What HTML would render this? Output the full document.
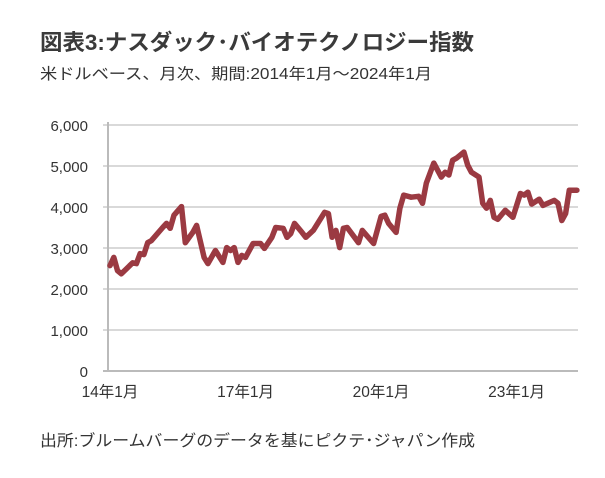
<!DOCTYPE html>
<html><head><meta charset="utf-8">
<style>
body{margin:0;background:#fff;}
svg text{font-family:"Liberation Sans","Noto Sans CJK JP",sans-serif;}
</style></head>
<body>
<svg width="605" height="473" viewBox="0 0 605 473">
<text x="40" y="50" font-size="22" font-weight="bold" fill="#3a3a3a" textLength="434" lengthAdjust="spacingAndGlyphs">図表3:ナスダック･バイオテクノロジー指数</text>
<text x="40" y="79" font-size="15.5" fill="#333" textLength="392" lengthAdjust="spacingAndGlyphs">米ドルベース、月次、期間:2014年1月～2024年1月</text>
<g id="grid"></g>
<g id="yt"></g>
<g id="xt"></g>
<line x1="108" y1="122" x2="108" y2="371" stroke="#bbb" stroke-width="2"/>
<path id="line" fill="none" stroke="#9b3a42" stroke-width="5.5" stroke-linejoin="round" stroke-linecap="round"/>
<text x="40" y="446" font-size="16" fill="#333" textLength="435" lengthAdjust="spacingAndGlyphs">出所:ブルームバーグのデータを基にピクテ･ジャパン作成</text>
</svg>
<script>
const months=[0,1,2,3,6,7,8,9,10,11,14,15,16,17,19,20,22,23,25,26,28,30,31,32,33,34,35,36,38,40,41,43,44,46,47,48,49,51,52,54,57,58,59,60,61,62,63,66,67,70,72,73,74,76,77,78,80,82,83,84,86,88,89,90,91,92,94,95,96,98,99,100,101,102,103,105,107,109,110,111,112,114,115,118,119,120,121,122,124];
const values=[2570,2770,2450,2370,2640,2620,2860,2840,3130,3180,3500,3600,3480,3800,4010,3130,3380,3550,2770,2620,2940,2650,3010,2940,3010,2650,2820,2770,3110,3110,2990,3260,3500,3480,3260,3350,3600,3380,3260,3430,3870,3840,3260,3430,3010,3480,3500,3130,3430,3110,3770,3800,3600,3380,3970,4290,4240,4260,4090,4580,5070,4730,4850,4780,5140,5190,5340,5020,4850,4730,4090,3970,4160,3750,3700,3920,3750,4330,4290,4360,4070,4190,4040,4160,4090,3670,3840,4410,4410];
const yTicks=[0,1000,2000,3000,4000,5000,6000];
const yLabels=["0","1,000","2,000","3,000","4,000","5,000","6,000"];
const xTickMonths=[0,36,72,108];
const xLabels=["14年1月","17年1月","20年1月","23年1月"];
const NS="http://www.w3.org/2000/svg";
const X=m=>110+m*3.765;
const Y=v=>371-v*0.041;
const grid=document.getElementById('grid'),yt=document.getElementById('yt'),xt=document.getElementById('xt');
yTicks.forEach((t,i)=>{
  const l=document.createElementNS(NS,'line');
  l.setAttribute('x1',103);l.setAttribute('x2',578);l.setAttribute('y1',Y(t));l.setAttribute('y2',Y(t));
  l.setAttribute('stroke',i===0?'#bbb':'#d9d9d9');l.setAttribute('stroke-width',2);
  
  
  grid.appendChild(l);
  const tx=document.createElementNS(NS,'text');
  tx.setAttribute('x',88);tx.setAttribute('y',Y(t)+6);tx.setAttribute('text-anchor','end');
  tx.setAttribute('font-size','15');tx.setAttribute('fill','#333');tx.textContent=yLabels[i];
  
  
  yt.appendChild(tx);
});
xTickMonths.forEach((m,i)=>{
  const tx=document.createElementNS(NS,'text');
  tx.setAttribute('x',X(m));tx.setAttribute('y',397);tx.setAttribute('text-anchor','middle');
  tx.setAttribute('font-size','15.5');tx.setAttribute('fill','#333');tx.textContent=xLabels[i];
  
  
  xt.appendChild(tx);
});
document.getElementById('line').setAttribute('d',months.map((m,i)=>(i?'L':'M')+X(m).toFixed(1)+' '+Y(values[i]).toFixed(1)).join(' '));
</script>
</body></html>
